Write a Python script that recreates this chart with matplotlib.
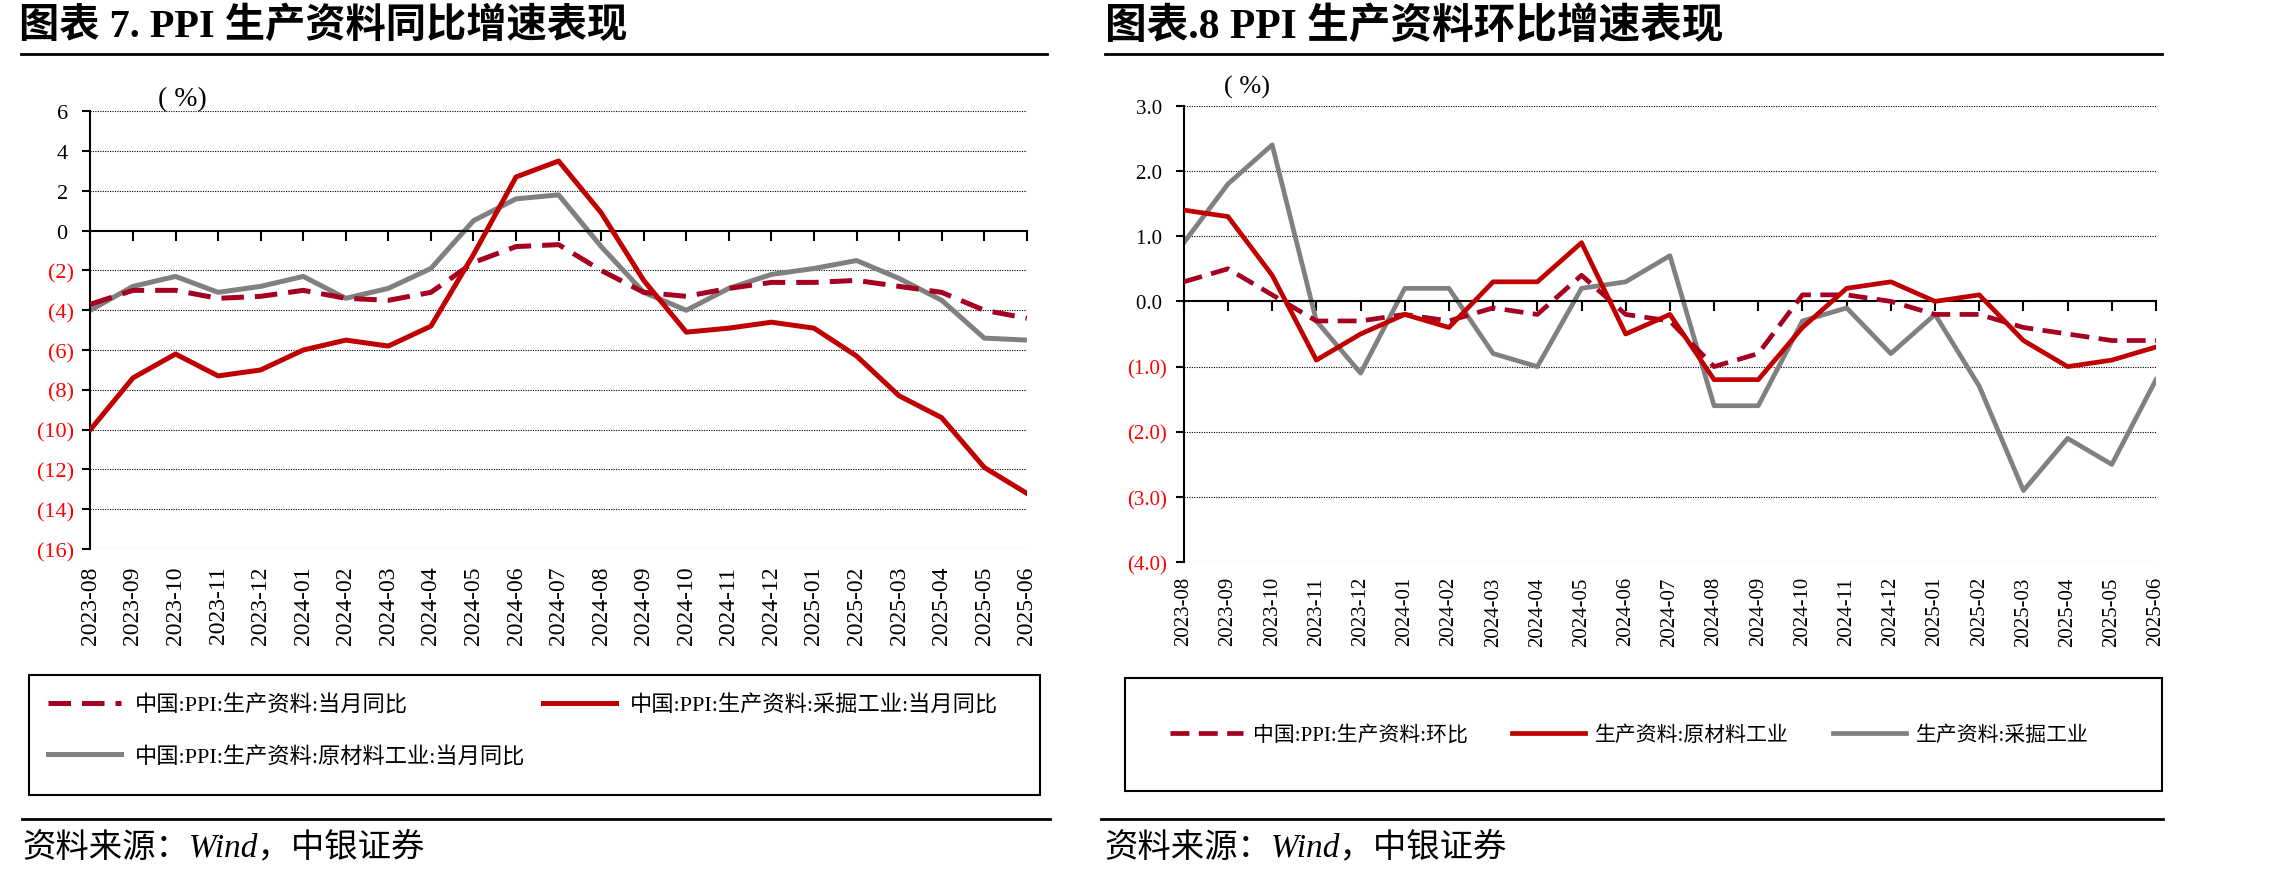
import numpy as np
import matplotlib.pyplot as plt
from matplotlib.patches import Rectangle
from matplotlib.lines import Line2D

plt.switch_backend('Agg')
plt.rcParams['font.family'] = ['Liberation Serif', 'Noto Sans CJK SC']
plt.rcParams['axes.unicode_minus'] = False

months = ['2023-08', '2023-09', '2023-10', '2023-11', '2023-12',
          '2024-01', '2024-02', '2024-03', '2024-04', '2024-05', '2024-06',
          '2024-07', '2024-08', '2024-09', '2024-10', '2024-11', '2024-12',
          '2025-01', '2025-02', '2025-03', '2025-04', '2025-05', '2025-06']

# 图表7 同比
yoy_total = [-3.7, -3.0, -3.0, -3.4, -3.3, -3.0, -3.4, -3.5, -3.1, -1.6, -0.8, -0.7,
             -2.0, -3.1, -3.3, -2.9, -2.6, -2.6, -2.5, -2.8, -3.1, -4.0, -4.4]
yoy_mining = [-10.0, -7.4, -6.2, -7.3, -7.0, -6.0, -5.5, -5.8, -4.8, -1.2, 2.7, 3.5,
              0.9, -2.5, -5.1, -4.9, -4.6, -4.9, -6.3, -8.3, -9.4, -11.9, -13.2]
yoy_raw = [-4.0, -2.8, -2.3, -3.1, -2.8, -2.3, -3.4, -2.9, -1.9, 0.5, 1.6, 1.8,
           -0.8, -3.1, -4.0, -2.9, -2.2, -1.9, -1.5, -2.4, -3.5, -5.4, -5.5]
yoy_labels = ['中国:PPI:生产资料:当月同比', '中国:PPI:生产资料:采掘工业:当月同比',
              '中国:PPI:生产资料:原材料工业:当月同比']
yoy_ticks = [6, 4, 2, 0, -2, -4, -6, -8, -10, -12, -14, -16]

# 图表8 环比
mom_total = [0.3, 0.5, 0.1, -0.3, -0.3, -0.2, -0.3, -0.1, -0.2, 0.4, -0.2, -0.3,
             -1.0, -0.8, 0.1, 0.1, 0.0, -0.2, -0.2, -0.4, -0.5, -0.6, -0.6]
mom_raw = [1.4, 1.3, 0.4, -0.9, -0.5, -0.2, -0.4, 0.3, 0.3, 0.9, -0.5, -0.2,
           -1.2, -1.2, -0.4, 0.2, 0.3, 0.0, 0.1, -0.6, -1.0, -0.9, -0.7]
mom_mining = [0.9, 1.8, 2.4, -0.3, -1.1, 0.2, 0.2, -0.8, -1.0, 0.2, 0.3, 0.7,
              -1.6, -1.6, -0.3, -0.1, -0.8, -0.2, -1.3, -2.9, -2.1, -2.5, -1.2]
mom_labels = ['中国:PPI:生产资料:环比', '生产资料:原材料工业', '生产资料:采掘工业']
mom_ticks = [3, 2, 1, 0, -1, -2, -3, -4]

DASH_RED = '#A50021'
RED = '#C00000'
GRAY = '#808080'

W, H = 2290, 879
fig = plt.figure(figsize=(W / 100, H / 100), dpi=100)


def fx(px):
    return px / W


def fy(py):
    return 1 - py / H


def paren(v, fmt):
    s = fmt.format(abs(v))
    return '(' + s + ')' if v < 0 else s + ' '


def setup(ax, yticks, fmt, tick_fs, x_fs, x_pad):
    x = np.arange(len(months))
    ax.set_xlim(0, len(months) - 1)
    ax.set_ylim(min(yticks), max(yticks))
    ax.spines['top'].set_visible(False)
    ax.spines['right'].set_visible(False)
    ax.spines['bottom'].set_position(('data', 0))
    ax.spines['bottom'].set_linewidth(1.5)
    ax.spines['left'].set_linewidth(1.5)
    ax.set_xticks(x)
    ax.tick_params(axis='x', direction='out', length=7, width=1.5, labelbottom=False)
    ax.set_yticks(yticks)
    ax.set_yticklabels([paren(v, fmt) for v in yticks], fontsize=tick_fs)
    for lab, v in zip(ax.get_yticklabels(), yticks):
        lab.set_color('red' if v < 0 else 'black')
    ax.tick_params(axis='y', direction='out', length=6, width=1.5, pad=6)
    for v in yticks:
        if v != 0:
            ax.axhline(v, color='black', lw=0.8, ls=(0, (1, 1.2)), zorder=1)
    sec = ax.secondary_xaxis('bottom')
    sec.set_xticks(x, months, rotation=90, fontsize=x_fs)
    sec.spines['bottom'].set_visible(False)
    sec.tick_params(length=0, pad=x_pad)
    return x


# ---- left chart
ax1 = fig.add_axes([fx(90.4), fy(550), fx(1026.8) - fx(90.4), fy(112.3) - fy(550)])
x = setup(ax1, yoy_ticks, '{:.0f}', 16, 17, 12)
l1, = ax1.plot(x, yoy_total, color=DASH_RED, lw=3.6, ls=(0, (4.5, 2.2)), zorder=3)
l2, = ax1.plot(x, yoy_mining, color=RED, lw=3.6, zorder=4)
l3, = ax1.plot(x, yoy_raw, color=GRAY, lw=3.6, zorder=2)

# ---- right chart
ax2 = fig.add_axes([fx(1183.8), fy(563.3), fx(2156) - fx(1183.8), fy(106.7) - fy(563.3)])
x = setup(ax2, mom_ticks, '{:.1f}', 15, 15, 10)
r1, = ax2.plot(x, mom_total, color=DASH_RED, lw=3.4, ls=(0, (4, 2)), zorder=3)
r2, = ax2.plot(x, mom_raw, color=RED, lw=3.4, zorder=4)
r3, = ax2.plot(x, mom_mining, color=GRAY, lw=3.4, zorder=2)

# 单位
fig.text(fx(182), fy(100), '( %)', fontsize=20, ha='center', va='center')
fig.text(fx(1247), fy(87), '( %)', fontsize=19, ha='center', va='center')

# 标题
fig.text(fx(19), fy(27), '图表 7. PPI 生产资料同比增速表现', fontsize=29,
         fontweight='bold', ha='left', va='center')
fig.text(fx(1105), fy(27), '图表.8 PPI 生产资料环比增速表现', fontsize=30,
         fontweight='bold', ha='left', va='center')
fig.add_artist(Line2D([fx(21), fx(1047)], [fy(55), fy(55)], color='black', lw=2))
fig.add_artist(Line2D([fx(1105), fx(2162)], [fy(55), fy(55)], color='black', lw=2))

# 图例
fig.add_artist(Rectangle((fx(29), fy(796)), fx(1040) - fx(29), fy(676) - fy(796),
                         transform=fig.transFigure, fill=False, lw=1.5, ec='black'))
fig.legend([l1, l3, l2], [yoy_labels[0], yoy_labels[2], yoy_labels[1]],
           loc='upper left', bbox_to_anchor=(fx(48), fy(696)), ncol=2,
           frameon=False, fontsize=16, handlelength=3.3, handletextpad=0.6,
           columnspacing=0.8, labelspacing=1.35, borderpad=0, borderaxespad=0)

fig.add_artist(Rectangle((fx(1125), fy(792)), fx(2162) - fx(1125), fy(679) - fy(792),
                         transform=fig.transFigure, fill=False, lw=1.5, ec='black'))
fig.legend([r1, r2, r3], mom_labels, loc='center left',
           bbox_to_anchor=(fx(1170), fy(736)), ncol=3, frameon=False, fontsize=15,
           handlelength=3.5, handletextpad=0.5, columnspacing=2.1,
           borderpad=0, borderaxespad=0)

# 资料来源
fig.add_artist(Line2D([fx(22), fx(1050)], [fy(820), fy(820)], color='black', lw=2))
fig.add_artist(Line2D([fx(1101), fx(2163)], [fy(820), fy(820)], color='black', lw=2))
fig.text(fx(22), fy(848), '资料来源：Wind，中银证券', fontsize=24, style='italic',
         ha='left', va='center')
fig.text(fx(1104), fy(848), '资料来源：Wind，中银证券', fontsize=24, style='italic',
         ha='left', va='center')

fig.savefig('out.png', dpi=100)
